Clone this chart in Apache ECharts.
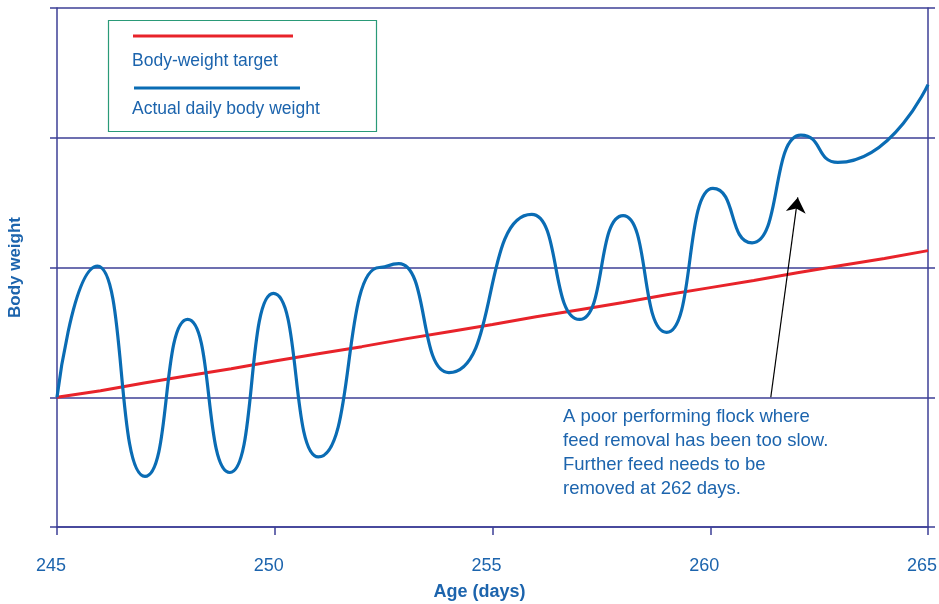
<!DOCTYPE html>
<html>
<head>
<meta charset="utf-8">
<style>html,body{margin:0;padding:0;background:#fff}#c{width:939px;height:604px}</style>
<script src="https://cdn.jsdelivr.net/npm/echarts@6/dist/echarts.min.js"></script>
</head>
<body>
<div id="c"></div>
<script>
const days = [245,246,247,248,249,250,251,252,253,254,255,256,257,258,259,260,261,262,263,264,265];
const target = [1.00,1.05,1.11,1.165,1.22,1.28,1.335,1.39,1.45,1.505,1.56,1.62,1.675,1.73,1.79,1.845,1.90,1.96,2.015,2.07,2.13];
const actualDays = [245.0,245.93,247.02,248.0,248.97,249.97,251.0,252.4,252.85,254.0,255.9,257.0,258.0,259.0,260.06,260.96,262.08,262.93,265.0];
const actual =     [1.00, 2.01,  0.39,  1.60, 0.42,  1.80,  0.54, 2.00, 2.03,  1.19, 2.41, 1.60, 2.40, 1.50, 2.61,  2.19,  3.02,  2.81,  3.41];
const xTicks = [245,250,255,260,265];
const arrowFrom = [261.39, 1.0];
const arrowTo = [262.01, 2.54];
const noteLines = ['A poor performing flock where','feed removal has been too slow.','Further feed needs to be','removed at 262 days.'];

const AX = '#3d3f96';
const TXT = '#1c64ad';
const FONT = '"Liberation Sans", Arial, sans-serif';

const chart = echarts.init(document.getElementById('c'), null, {renderer:'canvas'});

chart.setOption({
  animation:false,
  grid:{left:57,right:11,top:8,bottom:77,containLabel:false,outerBoundsMode:'none'},
  xAxis:{
    type:'value',min:245,max:265,interval:5,
    name:'Age (days)',nameLocation:'middle',nameGap:56,
    nameTextStyle:{color:TXT,fontSize:18,fontWeight:'bold',fontFamily:FONT,padding:[0,26,0,0]},
    axisLine:{show:true,lineStyle:{color:AX,width:1.5}},
    axisTick:{show:true,length:8,lineStyle:{color:AX,width:1.5}},
    axisLabel:{color:TXT,fontSize:18,fontFamily:FONT,margin:30,padding:[0,12,0,0],
      formatter:v=>xTicks.includes(v)?String(v):''},
    splitLine:{show:false}
  },
  yAxis:[{
    type:'value',min:0,max:4,interval:1,position:'left',
    name:'Body weight',nameLocation:'middle',nameGap:33,nameRotate:90,
    nameTextStyle:{color:TXT,fontSize:17,fontWeight:'bold',fontFamily:FONT},
    axisLine:{show:true,lineStyle:{color:AX,width:1.5}},
    axisTick:{show:true,length:7,lineStyle:{color:AX,width:1.5}},
    axisLabel:{show:false},
    splitLine:{show:true,lineStyle:{color:AX,width:1.5}}
  },{
    type:'value',min:0,max:4,interval:1,position:'right',
    axisLine:{show:true,lineStyle:{color:AX,width:1.5}},
    axisTick:{show:true,length:7,lineStyle:{color:AX,width:1.5}},
    axisLabel:{show:false},
    splitLine:{show:false}
  }],
  series:[{
    name:'Body-weight target',type:'line',data:days.map((d,i)=>[d,target[i]]),
    symbol:'none',lineStyle:{color:'#e8232a',width:3},z:3
  },{
    name:'Actual daily body weight',type:'line',data:actualDays.map((d,i)=>[d,actual[i]]),
    symbol:'none',smooth:0.6,smoothMonotone:'x',lineStyle:{color:'#0a6cb4',width:3.2},z:4,
    markLine:{
      silent:true,symbol:['none','arrow'],symbolSize:15,
      label:{show:false},
      lineStyle:{color:'#000',width:1.2,type:'solid'},
      data:[[{coord:arrowFrom},{coord:arrowTo}]]
    }
  }],
  graphic:[
    {type:'rect',shape:{x:108.5,y:20.5,width:268,height:111},style:{fill:'#fff',stroke:'#2a9a78',lineWidth:1.2},z:10},
    {type:'line',shape:{x1:133,y1:36,x2:293,y2:36},style:{stroke:'#e8232a',lineWidth:3},z:11},
    {type:'text',left:132,top:52,style:{text:'Body-weight target',fill:TXT,font:'17.5px '+FONT},z:11},
    {type:'line',shape:{x1:134,y1:88,x2:300,y2:88},style:{stroke:'#0a6cb4',lineWidth:3},z:11},
    {type:'text',left:132,top:100,style:{text:'Actual daily body weight',fill:TXT,font:'17.5px '+FONT},z:11},
    {type:'text',left:563,top:405,style:{text:noteLines.join('\n'),fill:TXT,font:'18.5px '+FONT,lineHeight:24},z:11}
  ]
});
</script>
</body>
</html>
